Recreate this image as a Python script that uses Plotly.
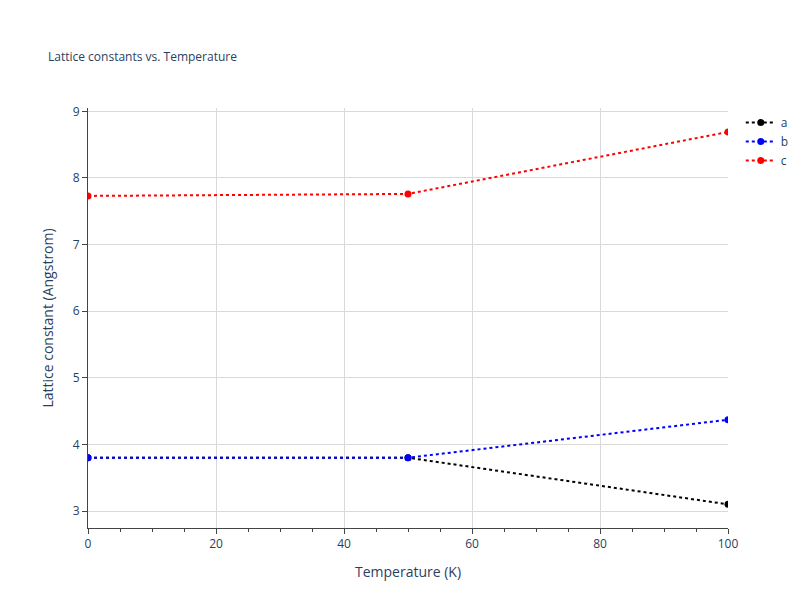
import plotly.graph_objects as go

temps = [0, 50, 100]
a_vals = [3.80, 3.80, 3.10]
b_vals = [3.80, 3.80, 4.37]
c_vals = [7.73, 7.76, 8.69]
names = ["a", "b", "c"]
colors = ["black", "blue", "red"]

fig = go.Figure()
for n, v, col in zip(names, [a_vals, b_vals, c_vals], colors):
    fig.add_trace(go.Scatter(x=temps, y=v, name=n, mode="lines+markers",
                             line=dict(color=col, dash="dot", width=2),
                             marker=dict(color=col, size=7)))

axis = dict(showgrid=True, gridcolor="#d9d9d9", showline=True, linecolor="#444",
            linewidth=1, ticks="outside", tickcolor="#444", zeroline=False,
            tickfont=dict(size=12, color="#2a3f5f"), automargin=False)
fig.update_layout(
    width=800, height=600, plot_bgcolor="white", paper_bgcolor="white",
    title=dict(text="Lattice constants vs. Temperature", font=dict(size=12, color="#2a3f5f"), x=0.05, y=0.925),
    xaxis=dict(axis, title=dict(text="Temperature (K)", font=dict(size=14, color="#2a3f5f")),
               range=[0, 100], minor=dict(ticks="outside", dtick=5, tickcolor="#444", ticklen=3)),
    yaxis=dict(axis, title=dict(text="Lattice constant (Angstrom)", font=dict(size=14, color="#2a3f5f")),
               range=[2.745, 9.05], dtick=1),
    margin=dict(l=80, r=80, t=100, b=80),
    legend=dict(font=dict(color="#2a3f5f")),
)
fig.write_html("out.html")
